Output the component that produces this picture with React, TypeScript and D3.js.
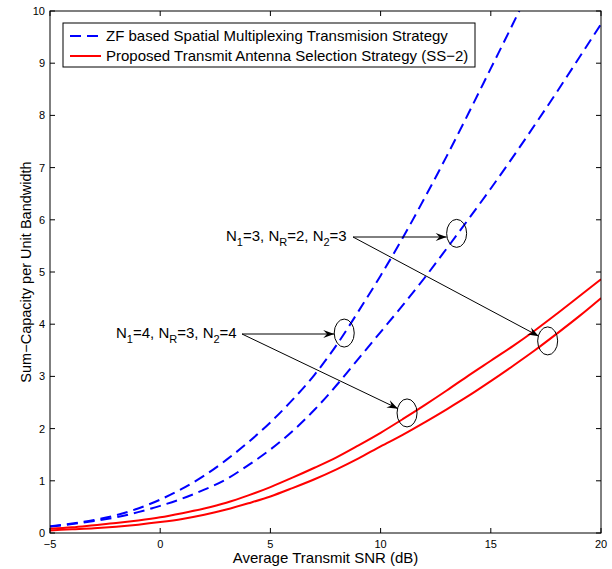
import React, { useEffect, useRef } from "react";
import * as d3 from "d3";

// SNR grid (dB) shared by all four curves
const snrDb = [-5, -4, -3, -2, -1, 0, 1, 2, 3, 4, 5, 6, 7, 8, 9, 10, 11, 12, 13, 14, 15, 16, 17, 18, 19, 20];

// ZF spatial multiplexing, N1=4, NR=3, N2=4
const zfLarge = [0.13, 0.18, 0.25, 0.34, 0.47, 0.64, 0.85, 1.1, 1.4, 1.74, 2.12, 2.55, 3.03, 3.6, 4.25, 4.93, 5.65, 6.42, 7.22, 8.05, 8.9, 9.75, 10.62, 11.5, 12.4, 13.3];
// ZF spatial multiplexing, N1=3, NR=2, N2=3
const zfSmall = [0.12, 0.17, 0.23, 0.3, 0.4, 0.52, 0.66, 0.83, 1.03, 1.3, 1.6, 1.95, 2.36, 2.83, 3.34, 3.85, 4.36, 4.89, 5.45, 6.02, 6.6, 7.2, 7.82, 8.45, 9.1, 9.75];
// Transmit antenna selection (SS-2), N1=4, NR=3, N2=4
const tasLarge = [0.08, 0.11, 0.15, 0.19, 0.24, 0.3, 0.38, 0.47, 0.58, 0.72, 0.88, 1.06, 1.25, 1.45, 1.68, 1.92, 2.18, 2.45, 2.73, 3.02, 3.3, 3.58, 3.88, 4.2, 4.53, 4.86];
// Transmit antenna selection (SS-2), N1=3, NR=2, N2=3
const tasSmall = [0.05, 0.07, 0.09, 0.12, 0.16, 0.21, 0.27, 0.35, 0.45, 0.57, 0.7, 0.86, 1.03, 1.22, 1.43, 1.66, 1.88, 2.12, 2.37, 2.63, 2.91, 3.2, 3.5, 3.82, 4.15, 4.5];

const xTicks = [-5, 0, 5, 10, 15, 20];
const yTicks = [0, 1, 2, 3, 4, 5, 6, 7, 8, 9, 10];

const legendLabels = [
  "ZF based Spatial Multiplexing Transmision Strategy",
  "Proposed Transmit Antenna Selection Strategy (SS\u22122)",
];

// Annotation targets in data coordinates
const markLarge = [
  { x: 8.35, y: 3.83 },
  { x: 11.2, y: 2.3 },
];
const markSmall = [
  { x: 13.45, y: 5.74 },
  { x: 17.58, y: 3.68 },
];

const W = 612;
const H = 569;
const M = { left: 50, right: 11, top: 11, bottom: 36 };

export default function App() {
  const ref = useRef<SVGSVGElement | null>(null);

  useEffect(() => {
    const svg = d3.select(ref.current);
    svg.selectAll("*").remove();

    const x = d3.scaleLinear().domain([-5, 20]).range([M.left, W - M.right]);
    const y = d3.scaleLinear().domain([0, 10]).range([H - M.bottom, M.top]);
    const font = "'Liberation Sans', Arial, Helvetica, sans-serif";

    svg.append("rect").attr("width", W).attr("height", H).attr("fill", "#fff");

    const defs = svg.append("defs");
    defs
      .append("clipPath")
      .attr("id", "plotClip")
      .append("rect")
      .attr("x", x(-5))
      .attr("y", y(10))
      .attr("width", x(20) - x(-5))
      .attr("height", y(0) - y(10));

    const line = d3
      .line<number>()
      .x((_, i) => x(snrDb[i]))
      .y((d) => y(d))
      .curve(d3.curveMonotoneX);

    const plot = svg.append("g").attr("clip-path", "url(#plotClip)");
    const series = [
      { data: zfLarge, color: "#0000ff", dash: "11,6" },
      { data: zfSmall, color: "#0000ff", dash: "11,6" },
      { data: tasLarge, color: "#ff0000", dash: null },
      { data: tasSmall, color: "#ff0000", dash: null },
    ];
    series.forEach((s) => {
      plot
        .append("path")
        .attr("d", line(s.data))
        .attr("fill", "none")
        .attr("stroke", s.color)
        .attr("stroke-width", 2)
        .attr("stroke-dasharray", s.dash);
    });

    // Frame and inward ticks on all four sides
    const axes = svg.append("g").attr("stroke", "#000").attr("stroke-width", 1);
    axes
      .append("rect")
      .attr("x", x(-5))
      .attr("y", y(10))
      .attr("width", x(20) - x(-5))
      .attr("height", y(0) - y(10))
      .attr("fill", "none");
    const tl = 5;
    xTicks.forEach((t) => {
      axes.append("line").attr("x1", x(t)).attr("x2", x(t)).attr("y1", y(0)).attr("y2", y(0) - tl);
      axes.append("line").attr("x1", x(t)).attr("x2", x(t)).attr("y1", y(10)).attr("y2", y(10) + tl);
    });
    yTicks.forEach((t) => {
      axes.append("line").attr("x1", x(-5)).attr("x2", x(-5) + tl).attr("y1", y(t)).attr("y2", y(t));
      axes.append("line").attr("x1", x(20)).attr("x2", x(20) - tl).attr("y1", y(t)).attr("y2", y(t));
    });

    const labels = svg.append("g").attr("font-family", font).attr("fill", "#000").attr("font-size", 11);
    xTicks.forEach((t) => {
      labels
        .append("text")
        .attr("x", x(t))
        .attr("y", y(0) + 15)
        .attr("text-anchor", "middle")
        .text(t < 0 ? "\u2212" + Math.abs(t) : String(t));
    });
    yTicks.forEach((t) => {
      labels
        .append("text")
        .attr("x", x(-5) - 5)
        .attr("y", y(t) + 4)
        .attr("text-anchor", "end")
        .text(String(t));
    });

    svg
      .append("text")
      .attr("x", (x(-5) + x(20)) / 2)
      .attr("y", 563)
      .attr("text-anchor", "middle")
      .attr("font-family", font)
      .attr("font-size", 15)
      .text("Average Transmit SNR (dB)");

    svg
      .append("text")
      .attr("transform", `translate(31,${(y(0) + y(10)) / 2}) rotate(-90)`)
      .attr("text-anchor", "middle")
      .attr("font-family", font)
      .attr("font-size", 14.5)
      .text("Sum\u2212Capacity per Unit Bandwidth");

    // Legend
    const lg = svg.append("g");
    lg.append("rect")
      .attr("x", 63)
      .attr("y", 23)
      .attr("width", 412)
      .attr("height", 44)
      .attr("fill", "#fff")
      .attr("stroke", "#000");
    [
      { c: "#0000ff", dash: "11,6", yy: 36 },
      { c: "#ff0000", dash: null, yy: 56 },
    ].forEach((r, i) => {
      lg.append("line")
        .attr("x1", 70)
        .attr("x2", 101)
        .attr("y1", r.yy)
        .attr("y2", r.yy)
        .attr("stroke", r.c)
        .attr("stroke-width", 2)
        .attr("stroke-dasharray", r.dash);
      lg.append("text")
        .attr("x", 106)
        .attr("y", r.yy + 5)
        .attr("font-family", font)
        .attr("font-size", 15)
        .text(legendLabels[i]);
    });

    // Annotation labels with subscripts
    const addLabel = (tx: number, ty: number, parts: [string, string][]) => {
      const t = svg
        .append("text")
        .attr("x", tx)
        .attr("y", ty)
        .attr("font-family", font)
        .attr("font-size", 15);
      let shift = 0;
      parts.forEach(([main, sub]) => {
        t.append("tspan").attr("dy", shift).text(main);
        shift = 0;
        if (sub) {
          t.append("tspan").attr("dy", 5).attr("font-size", 11).text(sub);
          shift = -5;
        }
      });
      return t;
    };
    addLabel(226, 241, [
      ["N", "1"],
      ["=3, N", "R"],
      ["=2, N", "2"],
      ["=3", ""],
    ]);
    addLabel(116, 338, [
      ["N", "1"],
      ["=4, N", "R"],
      ["=3, N", "2"],
      ["=4", ""],
    ]);

    const ann = svg.append("g");
    const arrow = (x0: number, y0: number, x1: number, y1: number) => {
      ann.append("line")
        .attr("x1", x0)
        .attr("y1", y0)
        .attr("x2", x1)
        .attr("y2", y1)
        .attr("stroke", "#000")
        .attr("stroke-width", 1);
      const a = Math.atan2(y1 - y0, x1 - x0);
      const L = 11;
      const w = 4;
      const bx = x1 - L * Math.cos(a);
      const by = y1 - L * Math.sin(a);
      const nx = x1 - L * 0.65 * Math.cos(a);
      const ny = y1 - L * 0.65 * Math.sin(a);
      const px = -Math.sin(a);
      const py = Math.cos(a);
      ann.append("path")
        .attr(
          "d",
          `M${x1},${y1}L${bx + w * px},${by + w * py}L${nx},${ny}L${bx - w * px},${by - w * py}Z`
        )
        .attr("fill", "#000");
    };
    const ellipse = (cx: number, cy: number) => {
      ann.append("ellipse")
        .attr("cx", cx)
        .attr("cy", cy)
        .attr("rx", 10)
        .attr("ry", 14)
        .attr("fill", "none")
        .attr("stroke", "#000")
        .attr("stroke-width", 1);
    };

    // N1=3 group
    const s0 = { x: 353, y: 237 };
    markSmall.forEach((m, i) => {
      const cx = x(m.x);
      const cy = y(m.y);
      ellipse(cx, cy);
      const a = Math.atan2(cy - s0.y, cx - s0.x);
      arrow(s0.x, s0.y, cx - 10 * Math.cos(a), i === 0 ? s0.y : cy - 10 * Math.sin(a));
    });
    // N1=4 group
    const s1 = { x: 242, y: 334 };
    markLarge.forEach((m, i) => {
      const cx = x(m.x);
      const cy = y(m.y);
      ellipse(cx, cy);
      const a = Math.atan2(cy - s1.y, cx - s1.x);
      arrow(s1.x, s1.y, cx - 10 * Math.cos(a), i === 0 ? s1.y : cy - 10 * Math.sin(a));
    });
  }, []);

  return (
    <svg
      ref={ref}
      width={W}
      height={H}
      style={{ display: "block", position: "absolute", left: 0, top: 0 }}
    />
  );
}
